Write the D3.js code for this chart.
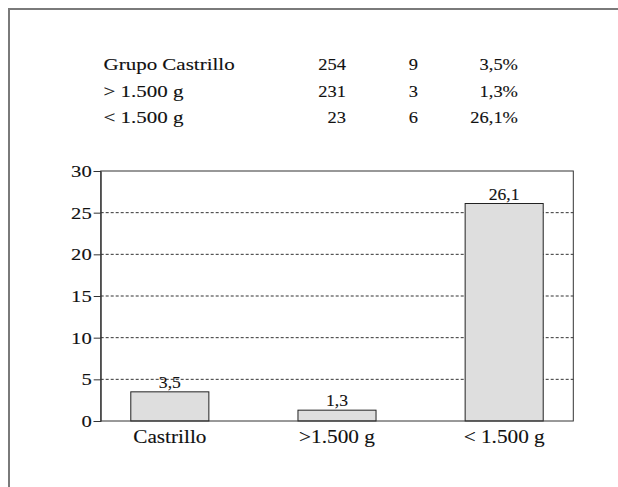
<!DOCTYPE html>
<html>
<head>
<meta charset="utf-8">
<script src="https://cdn.jsdelivr.net/npm/d3@7"></script>
<style>
  html, body { margin: 0; padding: 0; background: #fff; overflow: hidden; }
  svg { display: block; }
  text { font-family: "Liberation Serif", "Times New Roman", serif; fill: #111; stroke: #111; stroke-width: 0.12; }
</style>
</head>
<body>
<svg id="chart" width="618" height="487"></svg>
<script>
// ---- data ----
const tableRows = ["Grupo Castrillo", "> 1.500 g", "< 1.500 g"];
const tableTotal = ["254", "231", "23"];
const tableCases = ["9", "3", "6"];
const tablePct = ["3,5%", "1,3%", "26,1%"];

const categories = ["Castrillo", ">1.500 g", "< 1.500 g"];
const values = [3.5, 1.3, 26.1];
const valueLabels = ["3,5", "1,3", "26,1"];
const yTicks = [0, 5, 10, 15, 20, 25, 30];

// ---- layout ----
const svg = d3.select("#chart");
const plot = { left: 100.7, right: 573.3, top: 171, bottom: 421 };

// horizontally widened serif text helper
function wideText(g, x, y, str, size, sx, anchor) {
  return g.append("text")
    .attr("transform", `translate(${x},${y}) scale(${sx},1)`)
    .attr("font-size", size)
    .attr("text-anchor", anchor || "start")
    .text(str);
}

// outer frame (only top and left edges visible)
svg.append("line").attr("x1", 8).attr("x2", 618).attr("y1", 9).attr("y2", 9)
  .attr("stroke", "#7a7a7a").attr("stroke-width", 2);
svg.append("line").attr("x1", 9).attr("x2", 9).attr("y1", 8).attr("y2", 487)
  .attr("stroke", "#7a7a7a").attr("stroke-width", 2);

// ---- table ----
const rowY = d3.scalePoint().domain(d3.range(tableRows.length)).range([70, 123]);
const tbl = svg.append("g");
tableRows.forEach((r, i) => {
  wideText(tbl, 103.5, rowY(i), r, 17, 1.235, "start");
  wideText(tbl, 346, rowY(i), tableTotal[i], 16.5, 1.12, "end");
  wideText(tbl, 418, rowY(i), tableCases[i], 16.5, 1.12, "end");
  wideText(tbl, 518, rowY(i), tablePct[i], 16.5, 1.12, "end");
});

// ---- scales ----
const x = d3.scaleBand().domain(categories)
  .range([plot.left, plot.right]).paddingInner(0.533).paddingOuter(0.18);
const y = d3.scaleLinear().domain([0, 30]).range([plot.bottom, plot.top]);

// gridlines
svg.append("g").selectAll("line")
  .data(yTicks.filter(t => t > 0 && t < 30))
  .join("line")
  .attr("x1", plot.left).attr("x2", plot.right)
  .attr("y1", d => y(d)).attr("y2", d => y(d))
  .attr("stroke", "#333").attr("stroke-width", 1)
  .attr("stroke-dasharray", "3,2");

// bars
svg.append("g").selectAll("rect")
  .data(values)
  .join("rect")
  .attr("x", (d, i) => x(categories[i]))
  .attr("y", d => y(d))
  .attr("width", x.bandwidth())
  .attr("height", d => y(0) - y(d))
  .attr("fill", "#dedede").attr("stroke", "#222").attr("stroke-width", 1);

// plot frame
svg.append("rect")
  .attr("x", plot.left).attr("y", plot.top)
  .attr("width", plot.right - plot.left).attr("height", plot.bottom - plot.top)
  .attr("fill", "none").attr("stroke", "#333").attr("stroke-width", 1);

// y axis
const yAxis = d3.axisLeft(y).tickValues(yTicks).tickSize(7).tickPadding(3).tickFormat(d3.format("d"));
const gy = svg.append("g").attr("transform", `translate(${plot.left},0)`).call(yAxis);
gy.select(".domain").attr("stroke", "#333");
gy.selectAll(".tick line").attr("stroke", "#333");
gy.selectAll(".tick text")
  .attr("x", null).attr("dy", null)
  .attr("transform", "translate(-9,5.5) scale(1.25,1)")
  .attr("font-size", 16.5).attr("font-family", "Liberation Serif").attr("fill", "#111");

// x axis labels
const xAxis = d3.axisBottom(x).tickSize(0).tickPadding(8);
const gx = svg.append("g").attr("transform", `translate(0,${plot.bottom})`).call(xAxis);
gx.select(".domain").remove();
gx.selectAll(".tick text")
  .attr("y", null).attr("dy", null)
  .attr("transform", "translate(0,21.5) scale(1.15,1)")
  .attr("font-size", 18.5).attr("font-family", "Liberation Serif").attr("fill", "#111");

// value labels
const vl = svg.append("g");
values.forEach((d, i) => {
  wideText(vl, x(categories[i]) + x.bandwidth() / 2, y(d) - 4, valueLabels[i], 16, 1.1, "middle");
});
</script>
</body>
</html>
